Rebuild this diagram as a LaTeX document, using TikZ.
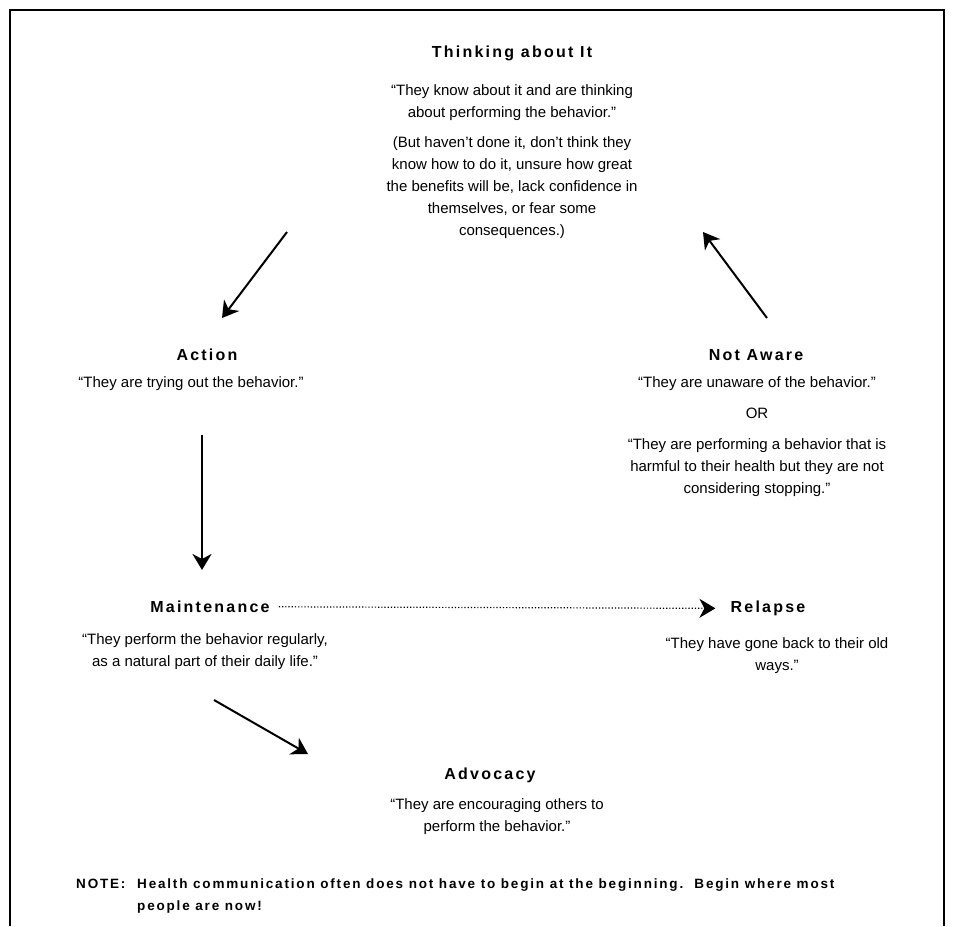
\documentclass[tikz,border=0pt]{standalone}
\usepackage{fontspec}
\setmainfont{Liberation Sans}
\newfontfamily\stagefont[LetterSpace=14]{Liberation Sans}
\newfontfamily\notefont[LetterSpace=13.5]{Liberation Sans}
\usetikzlibrary{arrows.meta,positioning}
\tikzset{
  stage/.style={inner sep=0pt, anchor=base, font=\stagefont\bfseries\fontsize{16}{18}\selectfont},
  saying/.style={inner sep=0pt, align=center, font=\fontsize{15}{22}\selectfont},
  notetxt/.style={inner sep=0pt, align=left, anchor=base west, font=\notefont\bfseries\fontsize{13.5}{22}\selectfont},
  sarr/.style={-{Stealth[length=16pt,width=19pt,inset=5pt]}, line width=2pt},
  darr/.style={-{Stealth[length=16pt,width=19pt,inset=5pt,sep=0pt]}, line width=1.2pt, dotted},
}

\begin{document}
\begin{tikzpicture}[x=1pt,y=-1pt]
  \useasboundingbox (0,0) rectangle (955,926);
  \draw[line width=1.2pt] (10,926) -- (10,10) -- (944,10) -- (944,926);
  % top stage
  \node[stage] (think) at (512,57.5) {Thinking about It};
  \node[saying] (thinkq) at (512,102.5) {“They know about it and are thinking\\about performing the behavior.”};
  \node[saying] (thinkp) at (512,188) {(But haven’t done it, don’t think they\\know how to do it, unsure how great\\the benefits will be, lack confidence in\\themselves, or fear some\\consequences.)};
  % left and right stages
  \node[stage] (action) at (207,360.5) {Action};
  \node[saying] (actionq) at (191,384) {“They are trying out the behavior.”};
  \node[stage] (aware) at (756,360.5) {Not Aware};
  \node[saying] (awareq) at (757,384) {“They are unaware of the behavior.”};
  \node[saying] (awareor) at (757,413) {OR};
  \node[saying] (awarep) at (757,468) {“They are performing a behavior that is\\harmful to their health but they are not\\considering stopping.”};
  \node[stage] (maint) at (210,612.5) {Maintenance};
  \node[saying] (maintq) at (205,652) {“They perform the behavior regularly,\\as a natural part of their daily life.”};
  \node[stage] (relapse) at (768,612.5) {Relapse};
  \node[saying] (relapseq) at (777,656) {“They have gone back to their old\\ways.”};
  \node[stage] (advo) at (490,779.5) {Advocacy};
  \node[saying] (advoq) at (497,817) {“They are encouraging others to\\perform the behavior.”};
  % note
  \node[notetxt] (notehd) at (76,888) {NOTE:};
  \node[notetxt] (notebody) at (137,910) {Health communication often does not have to begin at the beginning.\ \ Begin where most\\people are now!};
  % arrows
  \coordinate (t1) at (287,232);
  \coordinate (t2) at (222,318);
  \coordinate (n1) at (767,318);
  \coordinate (n2) at (703,232);
  \coordinate (v1) at (202,435);
  \coordinate (v2) at (202,570);
  \coordinate (m1) at (214,700);
  \coordinate (m2) at (308,754);
  \draw[sarr] (t1) -- (t2);
  \draw[sarr] (n1) -- (n2);
  \draw[sarr] (v1) -- (v2);
  \draw[darr] ([xshift=9pt]maint.east) -- ([xshift=-15pt]relapse.west);
  \draw[sarr] (m1) -- (m2);
\end{tikzpicture}
\end{document}
